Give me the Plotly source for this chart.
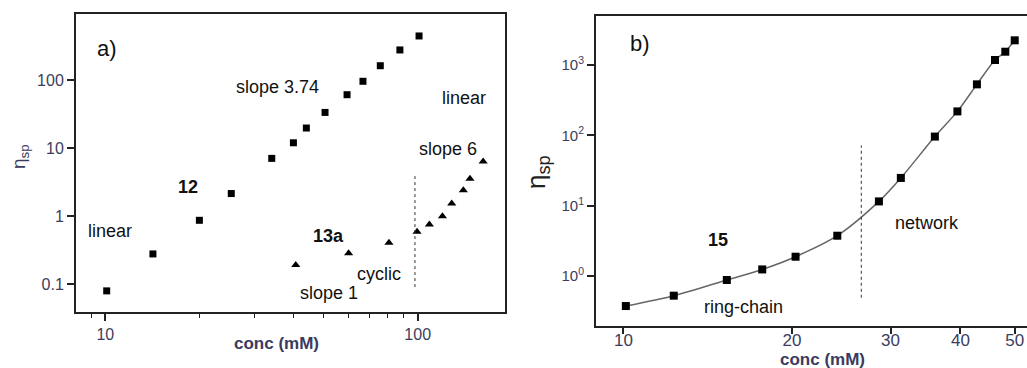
import plotly.graph_objects as go

# ---------------- data ----------------
# panel a) compound 12 (squares)
conc_12 = [10.1, 14.2, 20.0, 25.3, 34.1, 40.0, 44.0, 50.5, 59.4, 66.8, 75.9, 87.7, 101]
eta_12 = [0.080, 0.279, 0.87, 2.15, 7.06, 11.97, 19.7, 33.4, 60.8, 95.7, 162, 276, 443]
# panel a) compound 13a (triangles)
conc_13a = [40.7, 60.1, 80.9, 99.5, 109, 120, 128.5, 140, 147, 162]
eta_13a = [0.192, 0.285, 0.408, 0.59, 0.755, 1.0, 1.54, 2.41, 3.54, 6.38]
# panel a) dashed divider
div_a_x = [98, 98]
div_a_y = [0.091, 4.3]

# panel b) compound 15
conc_15 = [10.1, 12.3, 15.3, 17.7, 20.3, 24.1, 28.6, 31.3, 36.0, 39.5, 42.8, 46.1, 48.1, 50.0]
eta_15 = [0.374, 0.525, 0.877, 1.24, 1.88, 3.74, 11.5, 24.8, 96, 219, 531, 1178, 1546, 2245]
div_b_x = [26.6, 26.6]
div_b_y = [0.49, 72]

# tick labels
a_xtick_vals = [10, 100]
a_xtick_text = ["10", "100"]
a_xminor_vals = [9, 20, 30, 40, 50, 60, 70, 80, 90]
a_ytick_vals = [0.1, 1, 10, 100]
a_ytick_text = ["0.1", "1", "10", "100"]
b_xtick_vals = [10, 20, 30, 40, 50]
b_xtick_text = ["10", "20", "30", "40", "50"]
b_ytick_vals = [1, 10, 100, 1000]
b_ytick_text = ["10<sup>0</sup>", "10<sup>1</sup>", "10<sup>2</sup>", "10<sup>3</sup>"]

W, H = 1027, 368
FONT = "Arial, Liberation Sans, sans-serif"
TICKCOL = "#3c3d5c"
AXCOL = "#222222"


def px(x):
    return x / W


def py(y):
    return 1 - y / H


fig = go.Figure()

fig.add_trace(go.Scatter(x=conc_12, y=eta_12, mode="markers",
                         marker=dict(symbol="square", size=7, color="black"),
                         xaxis="x", yaxis="y", showlegend=False))
fig.add_trace(go.Scatter(x=conc_13a, y=eta_13a, mode="markers",
                         marker=dict(symbol="triangle-up", size=8, color="black"),
                         xaxis="x", yaxis="y", showlegend=False))
fig.add_trace(go.Scatter(x=div_a_x, y=div_a_y, mode="lines",
                         line=dict(color="#333333", width=1, dash="3px,3px"),
                         xaxis="x", yaxis="y", showlegend=False))

fig.add_trace(go.Scatter(x=conc_15, y=eta_15, mode="lines+markers",
                         line=dict(color="#666666", width=1.5, shape="spline", smoothing=0.8),
                         marker=dict(symbol="square", size=8, color="black"),
                         xaxis="x2", yaxis="y2", showlegend=False))
fig.add_trace(go.Scatter(x=div_b_x, y=div_b_y, mode="lines",
                         line=dict(color="#333333", width=1, dash="3px,3px"),
                         xaxis="x2", yaxis="y2", showlegend=False))

axis_common = dict(showline=True, linecolor=AXCOL, linewidth=2, showgrid=False,
                   zeroline=False, ticks="outside", tickcolor=AXCOL, tickwidth=2,
                   tickmode="array")


def minor(vals, length=4):
    return dict(tickmode="array", tickvals=vals, ticks="outside", ticklen=length,
                tickcolor=AXCOL, tickwidth=1.2)


fig.update_layout(
    width=W, height=H,
    margin=dict(l=0, r=0, t=0, b=0),
    paper_bgcolor="white", plot_bgcolor="white",
    font=dict(family=FONT, color=TICKCOL),
    xaxis=dict(axis_common, domain=[px(76), px(505)], anchor="y", type="log",
               range=[0.906, 2.2795], mirror=True,
               tickvals=a_xtick_vals, ticktext=a_xtick_text, ticklen=7,
               tickfont=dict(size=16, color=TICKCOL),
               minor=minor(a_xminor_vals, 4)),
    yaxis=dict(axis_common, domain=[py(312), py(14)], anchor="x", type="log",
               range=[-1.407, 2.969], mirror=True,
               tickvals=a_ytick_vals, ticktext=a_ytick_text, ticklen=7,
               tickfont=dict(size=16, color=TICKCOL)),
    xaxis2=dict(axis_common, domain=[px(596), 1.0], anchor="y2", type="log",
                range=[0.951, 1.7209], mirror=True,
                tickvals=b_xtick_vals, ticktext=b_xtick_text, ticklen=6,
                tickfont=dict(size=17, color=TICKCOL), ticklabelstandoff=-8),
    yaxis2=dict(axis_common, domain=[py(326), py(16)], anchor="x2", type="log",
                range=[-0.711, 3.697], mirror=False,
                tickvals=b_ytick_vals, ticktext=b_ytick_text, ticklen=7,
                tickfont=dict(size=15, color=TICKCOL)),
)

ann = []


def label(x, y, text, size=18, bold=False, color="#111111", angle=0):
    if bold:
        text = "<b>" + text + "</b>"
    ann.append(dict(x=px(x), y=py(y), xref="paper", yref="paper", text=text,
                    showarrow=False, textangle=angle,
                    font=dict(family=FONT, size=size, color=color),
                    xanchor="center", yanchor="middle"))


# panel a texts
label(107, 49, "a)", size=22)
label(277, 87, "slope 3.74", size=18)
label(464, 98, "linear", size=18)
label(448, 149, "slope 6", size=18)
label(188, 187, "12", size=18, bold=True)
label(110, 231, "linear", size=18)
label(328, 236, "13a", size=18, bold=True)
label(379, 274, "cyclic", size=18)
label(329, 293, "slope 1", size=18)
label(276, 343, "conc (mM)", size=17, bold=True, color="#3a3a5e")
label(20, 157, "η<sub>sp</sub>", size=19, color="#3a3a5e", angle=-90)

# panel b texts
label(640, 43, "b)", size=22)
label(718, 240, "15", size=18, bold=True)
label(743, 307, "ring-chain", size=18)
label(927, 223, "network", size=18)
label(822, 359, "conc (mM)", size=17, bold=True, color="#3a3a5e")
label(537, 172, "η<sub>sp</sub>", size=26, color="#222222", angle=-90)

fig.update_layout(annotations=ann)

fig.write_html("out.html")
